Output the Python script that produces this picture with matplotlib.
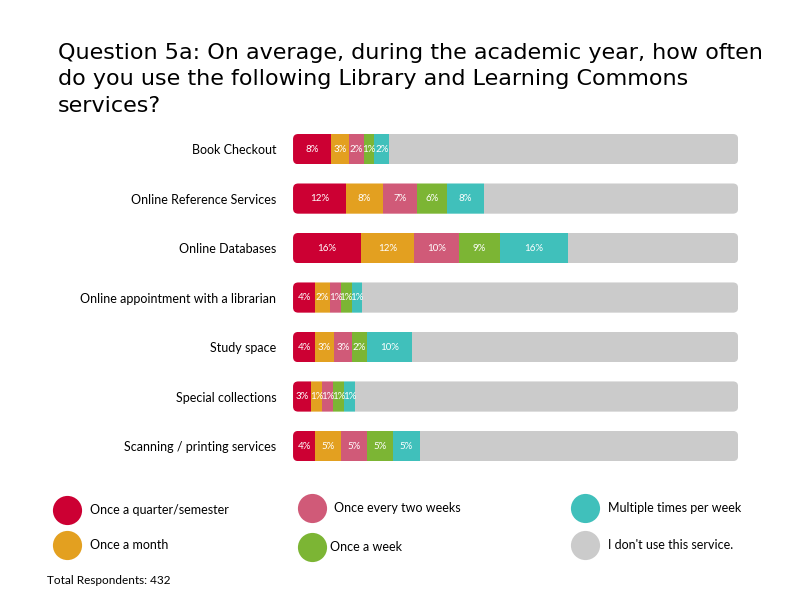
import matplotlib
matplotlib.use("Agg")
import matplotlib.pyplot as plt
from matplotlib.lines import Line2D
from matplotlib.patches import FancyBboxPatch

plt.rcParams['font.family'] = ['Lato', 'DejaVu Sans']

services = ["Book Checkout", "Online Reference Services", "Online Databases",
            "Online appointment with a librarian", "Study space",
            "Special collections", "Scanning / printing services"]
once_quarter = [8, 12, 16, 4, 4, 3, 4]
once_month = [3, 8, 12, 2, 3, 1, 5]
once_two_weeks = [2, 7, 10, 1, 3, 1, 5]
once_week = [1, 6, 9, 1, 2, 1, 5]
multiple_week = [2, 8, 16, 1, 10, 1, 5]
series_names = ["Once a quarter/semester", "Once a month", "Once every two weeks",
                "Once a week", "Multiple times per week", "I don't use this service."]
colors = ["#CC0033", "#E3A020", "#D05A78", "#7CB534", "#40C0BB", "#CBCBCB"]

# each coloured segment gets a little padding so its label fits (as in the original)
SEG_PAD = 1.85
XMAX = 117.0

used = [once_quarter, once_month, once_two_weeks, once_week, multiple_week]

fig = plt.figure(figsize=(7.92, 6.12), dpi=100)
ax = fig.add_axes([0.370, 0.2308, 0.562, 0.566])
ax.set_xlim(0, XMAX)
ax.set_ylim(len(services) - 0.5, -0.5)

ypos = list(range(len(services)))
H = 0.61
clips = []
for y in ypos:
    clip = FancyBboxPatch((0, y - H / 2), XMAX, H,
                          boxstyle="round,pad=0,rounding_size=1.35",
                          mutation_aspect=0.0768, transform=ax.transData,
                          facecolor='none', edgecolor='none')
    ax.add_patch(clip)
    clips.append(clip)

left = [0.0] * len(services)
for vals, col in zip(used, colors[:5]):
    widths = [v + SEG_PAD for v in vals]
    bars = ax.barh(ypos, widths, left=left, height=H, color=col, edgecolor='none')
    for b, c in zip(bars, clips):
        b.set_clip_path(c)
    for y, l, w, v in zip(ypos, left, widths, vals):
        ax.text(l + w / 2, y, f"{v}%", ha='center', va='center',
                color='white', fontsize=7)
    left = [a + b for a, b in zip(left, widths)]
rest = [XMAX - l for l in left]
bars = ax.barh(ypos, rest, left=left, height=H, color=colors[5], edgecolor='none')
for b, c in zip(bars, clips):
    b.set_clip_path(c)

ax.set_yticks(ypos)
ax.set_yticklabels(services, fontsize=9)
ax.tick_params(axis='y', length=0, pad=12)
ax.set_xticks([])
for s in ax.spines.values():
    s.set_visible(False)

fig.text(0.073, 0.817, "Question 5a: On average, during the academic year, how often\n"
         "do you use the following Library and Learning Commons\nservices?",
         fontsize=16, ha='left', va='baseline', linespacing=1.42,
         family=['DejaVu Sans'])

# legend
leg_pos = [(0.085, 0.167), (0.085, 0.109), (0.394, 0.170), (0.394, 0.106),
           (0.739, 0.170), (0.739, 0.109)]
text_dx = [0.029, 0.029, 0.028, 0.023, 0.029, 0.029]
for (x, y), dx, name, col in zip(leg_pos, text_dx, series_names, colors):
    fig.add_artist(Line2D([x], [y], marker='o', markersize=21, color=col,
                          markeredgewidth=0, linestyle='none', transform=fig.transFigure))
    fig.text(x + dx, y, name, fontsize=9, ha='left', va='center')

fig.text(0.059, 0.052, "Total Respondents: 432", fontsize=8.5, ha='left', va='center')

fig.savefig("out.png", dpi=100)
